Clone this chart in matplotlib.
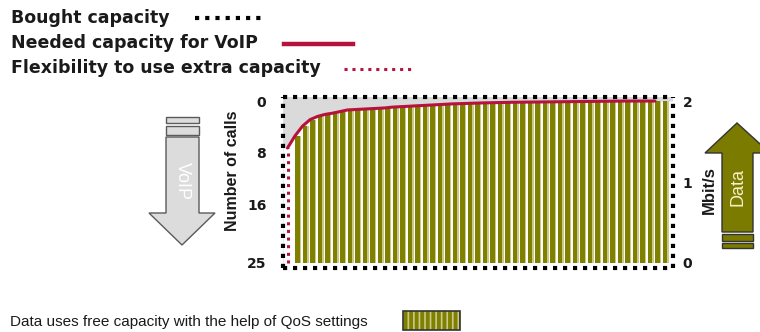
import numpy as np
import matplotlib
matplotlib.use("Agg")
import matplotlib.pyplot as plt
from matplotlib.patches import Polygon, Rectangle

# data
# free capacity used by data, one bar per time step (Mbit/s)
data_mbit = [1.57, 1.69, 1.77, 1.81, 1.835, 1.85, 1.87, 1.89, 1.895, 1.90,
             1.905, 1.91, 1.915, 1.925, 1.93, 1.935, 1.94, 1.945, 1.95, 1.955,
             1.96, 1.965, 1.968, 1.971, 1.974, 1.977, 1.979, 1.981, 1.983, 1.985,
             1.986, 1.987, 1.988, 1.989, 1.990, 1.991, 1.992, 1.993, 1.994, 1.995,
             1.996, 1.997, 1.998, 1.999, 2.0, 2.0, 2.0, 2.0, 2.0, 2.0]
flex_start = 1.42          # where the needed-capacity line starts
n_line = 49                # the red line covers the first 49 bars
calls_ticks = [0, 8, 16, 25]
max_calls = 25
mbit_ticks = [0, 1, 2]
capacity = 2.0

legend_labels = ["Bought capacity", "Needed capacity for VoIP",
                 "Flexibility to use extra capacity"]
bottom_text = "Data uses free capacity with the help of QoS settings"

RED = "#b5123e"
OLIVE = "#808000"
LIGHT = "#c9c98e"
GRAY = "#dadada"
TXT = "#1a1a1a"

plt.rcParams["hatch.linewidth"] = 1.2

fig = plt.figure(figsize=(7.6, 3.32), dpi=100)
W, H = 760, 332
L, R, T, B = 283, 673, 97, 268
ax = fig.add_axes([L / W, 1 - B / H, (R - L) / W, (B - T) / H])

x = np.arange(len(data_mbit))
xmin, xmax = -1.6, len(data_mbit) + 0.4
line_x = np.arange(-1, n_line)
line_y = np.array([flex_start] + data_mbit[:n_line])

ax.set_facecolor(GRAY)
fx = np.concatenate([[xmin], line_x, [n_line, xmax]])
fy = np.concatenate([[flex_start], line_y, [capacity, capacity]])
ax.fill_between(fx, -1, fy, color="white", lw=0, zorder=1)

ax.bar(x, data_mbit, width=0.6, align="edge", color=OLIVE, lw=0, zorder=2)
ax.bar(x + 0.6, data_mbit, width=0.25, align="edge", color=LIGHT, lw=0, zorder=2)

ax.plot(line_x, line_y, color=RED, lw=2.2, zorder=4, solid_capstyle="round")
ax.plot([line_x[0], line_x[0]], [0, flex_start], color=RED, lw=2.2,
        linestyle=(0, (1, 1.5)), zorder=4)

ax.set_xlim(xmin, xmax)
ax.set_ylim(-0.062, 2.05)
ax.set_xticks([])

tick_font = dict(family="DejaVu Sans", weight="bold", size=10)
ax.set_yticks([capacity * (1 - c / max_calls) for c in calls_ticks])
ax.set_yticklabels([str(c) for c in calls_ticks], **tick_font, color=TXT)
ax.tick_params(axis="y", length=0, pad=12)
ax.set_ylabel("Number of calls", family="Liberation Sans", weight="bold",
              size=11.5, color=TXT)
ax.yaxis.set_label_coords(-0.11, 0.567)

ax2 = ax.twinx()
ax2.set_ylim(ax.get_ylim())
ax2.set_yticks(mbit_ticks)
ax2.set_yticklabels([str(m) for m in mbit_ticks], **tick_font, color=TXT)
ax2.tick_params(axis="y", length=0, pad=7)
ax2.set_ylabel("Mbit/s", family="Liberation Sans", weight="bold",
               size=12, color=TXT)
ax2.yaxis.set_label_coords(1.074, 0.456)
for s in ax2.spines.values():
    s.set_visible(False)

for s in ax.spines.values():
    s.set_linestyle((0, (1, 1.4)))
    s.set_linewidth(3)
    s.set_color("black")
    s.set_capstyle("butt")
    s.set_zorder(5)

# overlay in pixel coordinates for legend, arrows and caption
ov = fig.add_axes([0, 0, 1, 1], facecolor="none")
ov.set_xlim(0, W)
ov.set_ylim(H, 0)
ov.axis("off")

leg_font = dict(family="DejaVu Sans", weight="bold", size=12.5, color=TXT,
                va="center", ha="left")
ov.text(11, 18, legend_labels[0], **leg_font)
ov.text(11, 43, legend_labels[1], **leg_font)
ov.text(11, 68, legend_labels[2], **leg_font)
ov.plot([195, 262], [18, 18], color="black", lw=3, linestyle=(0, (1, 1.45)))
ov.plot([284, 353], [44, 44], color=RED, lw=3.2)
ov.plot([344, 412], [69, 69], color=RED, lw=2.2, linestyle=(0, (1, 1.6)))

# VoIP arrow (down)
ov.add_patch(Polygon([(166, 137), (199, 137), (199, 213), (215, 213), (182, 245),
                      (149, 213), (166, 213)], closed=True, fc="#dcdcdc",
                     ec="#5a5a5a", lw=1))
ov.add_patch(Rectangle((166, 117), 33, 6, fc="#dcdcdc", ec="#5a5a5a", lw=1))
ov.add_patch(Rectangle((166, 126), 33, 9, fc="#dcdcdc", ec="#5a5a5a", lw=1))
ov.text(182, 181, "VoIP", rotation=270, family="Liberation Sans", size=13,
        color="white", ha="center", va="center")

# Data arrow (up)
ov.add_patch(Polygon([(722, 232), (753, 232), (753, 153), (770, 153), (737, 123),
                      (705, 153), (722, 153)], closed=True, fc="#7b7b00",
                     ec="#333333", lw=1, clip_on=False))
ov.add_patch(Rectangle((722, 234), 31, 7, fc="#7b7b00", ec="#333333", lw=1))
ov.add_patch(Rectangle((722, 243), 31, 5, fc="#7b7b00", ec="#333333", lw=1))
ov.text(738, 187, "Data", rotation=90, family="Liberation Sans", size=13,
        color="#f5f0c8", ha="center", va="center")

# caption with swatch
ov.text(10, 322, bottom_text, family="Liberation Sans", size=11, color=TXT,
        ha="left", va="center")
ov.add_patch(Rectangle((403, 311), 57, 19, fc=OLIVE, ec=LIGHT, lw=0, hatch="|||"))
ov.add_patch(Rectangle((403, 311), 57, 19, fc="none", ec="#333333", lw=1.2))

fig.savefig("out.png", dpi=100)
